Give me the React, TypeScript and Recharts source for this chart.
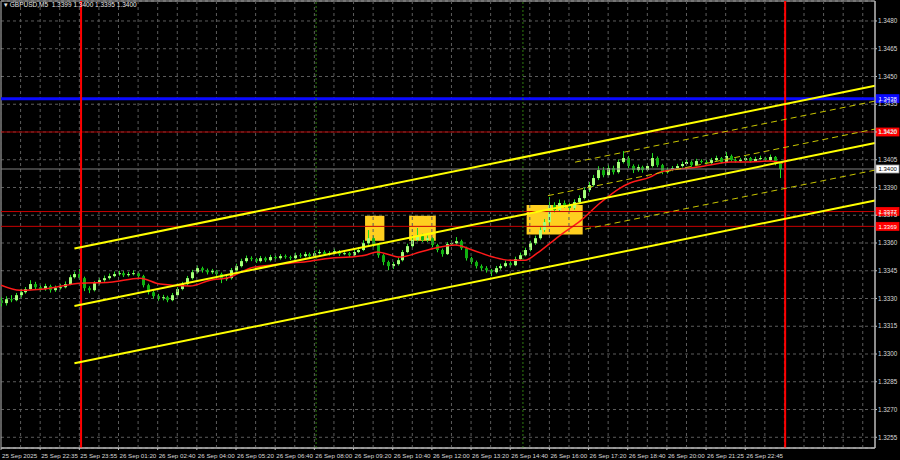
import {
  ComposedChart, Bar, Line, XAxis, YAxis, CartesianGrid,
  ReferenceLine, ReferenceArea,
} from "recharts";

// GBPUSD M5, one candle drawn per two M5 bars
const closes = [
  1.33275, 1.33296, 1.33291, 1.33318, 1.33334, 1.33351, 1.33378, 1.33361, 1.33351, 1.33367,
  1.33345, 1.33356, 1.33361, 1.33378, 1.33415, 1.33432, 1.33410, 1.33356, 1.33345, 1.33383,
  1.33399, 1.33410, 1.33421, 1.33432, 1.33437, 1.33426, 1.33432, 1.33437, 1.33421, 1.33372,
  1.33334, 1.33313, 1.33302, 1.33307, 1.33291, 1.33318, 1.33351, 1.33378, 1.33410, 1.33442,
  1.33464, 1.33453, 1.33442, 1.33448, 1.33432, 1.33405, 1.33410, 1.33453, 1.33475, 1.33502,
  1.33518, 1.33513, 1.33502, 1.33518, 1.33507, 1.33524, 1.33518, 1.33529, 1.33524, 1.33518,
  1.33534, 1.33529, 1.33540, 1.33529, 1.33545, 1.33551, 1.33540, 1.33545, 1.33556, 1.33540,
  1.33545, 1.33534, 1.33551, 1.33562, 1.33599, 1.33626, 1.33589, 1.33534, 1.33497, 1.33475,
  1.33486, 1.33507, 1.33551, 1.33583, 1.33616, 1.33637, 1.33616, 1.33626, 1.33589, 1.33562,
  1.33540, 1.33594, 1.33599, 1.33610, 1.33572, 1.33518, 1.33497, 1.33475, 1.33464, 1.33453,
  1.33442, 1.33464, 1.33475, 1.33491, 1.33480, 1.33513, 1.33534, 1.33562, 1.33599, 1.33626,
  1.33670, 1.33713, 1.33805, 1.33778, 1.33816, 1.33805, 1.33789, 1.33821, 1.33843, 1.33886,
  1.33913, 1.33951, 1.33994, 1.33967, 1.34005, 1.33983, 1.34038, 1.34059, 1.34016, 1.33994,
  1.34010, 1.33994, 1.34016, 1.34059, 1.34021, 1.33983, 1.33994, 1.34005, 1.34016, 1.34027,
  1.34038, 1.34021, 1.34043, 1.34038, 1.34032, 1.34048, 1.34059, 1.34038, 1.34070, 1.34048,
  1.34043, 1.34048, 1.34059, 1.34043, 1.34054, 1.34059, 1.34048, 1.34065, 1.34032, 1.34000,
];
const highs = [
  1.33310, 1.33312, 1.33318, 1.33330, 1.33352, 1.33362, 1.33399, 1.33390, 1.33372, 1.33380,
  1.33375, 1.33370, 1.33378, 1.33392, 1.33428, 1.33445, 1.33459, 1.33418, 1.33366, 1.33394,
  1.33412, 1.33424, 1.33435, 1.33446, 1.33450, 1.33448, 1.33444, 1.33452, 1.33446, 1.33428,
  1.33380, 1.33342, 1.33325, 1.33320, 1.33315, 1.33330, 1.33362, 1.33390, 1.33422, 1.33455,
  1.33478, 1.33472, 1.33462, 1.33460, 1.33455, 1.33440, 1.33425, 1.33465, 1.33488, 1.33515,
  1.33532, 1.33528, 1.33520, 1.33530, 1.33526, 1.33536, 1.33534, 1.33540, 1.33538, 1.33532,
  1.33548, 1.33545, 1.33552, 1.33548, 1.33558, 1.33564, 1.33560, 1.33556, 1.33570, 1.33562,
  1.33558, 1.33552, 1.33562, 1.33578, 1.33615, 1.33670, 1.33640, 1.33595, 1.33540, 1.33505,
  1.33498, 1.33520, 1.33562, 1.33596, 1.33630, 1.33681, 1.33650, 1.33640, 1.33632, 1.33596,
  1.33570, 1.33605, 1.33615, 1.33632, 1.33618, 1.33580, 1.33525, 1.33505, 1.33484, 1.33475,
  1.33460, 1.33476, 1.33488, 1.33505, 1.33500, 1.33526, 1.33548, 1.33575, 1.33612, 1.33640,
  1.33685, 1.33730, 1.33848, 1.33820, 1.33835, 1.33830, 1.33818, 1.33836, 1.33858, 1.33900,
  1.33930, 1.33968, 1.34015, 1.34010, 1.34025, 1.34018, 1.34052, 1.34097, 1.34070, 1.34025,
  1.34024, 1.34018, 1.34030, 1.34086, 1.34068, 1.34028, 1.34008, 1.34016, 1.34028, 1.34040,
  1.34050, 1.34046, 1.34055, 1.34052, 1.34048, 1.34060, 1.34072, 1.34065, 1.34092, 1.34078,
  1.34058, 1.34060, 1.34070, 1.34065, 1.34066, 1.34072, 1.34066, 1.34078, 1.34070, 1.34035,
];
const lows = [
  1.33258, 1.33262, 1.33280, 1.33285, 1.33305, 1.33326, 1.33345, 1.33348, 1.33338, 1.33342,
  1.33332, 1.33336, 1.33348, 1.33355, 1.33372, 1.33408, 1.33400, 1.33340, 1.33329, 1.33338,
  1.33375, 1.33390, 1.33402, 1.33415, 1.33424, 1.33416, 1.33418, 1.33425, 1.33410, 1.33360,
  1.33322, 1.33300, 1.33288, 1.33290, 1.33280, 1.33285, 1.33310, 1.33344, 1.33370, 1.33402,
  1.33435, 1.33440, 1.33430, 1.33432, 1.33420, 1.33383, 1.33395, 1.33402, 1.33445, 1.33468,
  1.33494, 1.33502, 1.33492, 1.33495, 1.33498, 1.33500, 1.33510, 1.33510, 1.33515, 1.33508,
  1.33512, 1.33520, 1.33522, 1.33520, 1.33524, 1.33538, 1.33530, 1.33532, 1.33538, 1.33530,
  1.33534, 1.33525, 1.33528, 1.33545, 1.33556, 1.33590, 1.33578, 1.33520, 1.33480, 1.33453,
  1.33460, 1.33478, 1.33500, 1.33545, 1.33575, 1.33608, 1.33605, 1.33605, 1.33578, 1.33550,
  1.33526, 1.33535, 1.33585, 1.33592, 1.33562, 1.33505, 1.33485, 1.33462, 1.33450, 1.33440,
  1.33421, 1.33435, 1.33455, 1.33468, 1.33470, 1.33475, 1.33505, 1.33528, 1.33555, 1.33590,
  1.33618, 1.33660, 1.33705, 1.33765, 1.33770, 1.33790, 1.33775, 1.33780, 1.33812, 1.33835,
  1.33875, 1.33905, 1.33940, 1.33955, 1.33960, 1.33970, 1.33975, 1.34030, 1.34005, 1.33978,
  1.33985, 1.33980, 1.33988, 1.34008, 1.34010, 1.33972, 1.33975, 1.33988, 1.33998, 1.34008,
  1.34020, 1.34012, 1.34015, 1.34030, 1.34025, 1.34026, 1.34042, 1.34030, 1.34032, 1.34040,
  1.34035, 1.34036, 1.34042, 1.34035, 1.34038, 1.34048, 1.34040, 1.34042, 1.34020, 1.33951,
];
const firstOpen = 1.3329;

// moving average (red), bar index -> value
const maBars = [0, 7.8, 20, 32.3, 44.5, 56.8, 65, 77.2, 85.4, 93.5, 101.7, 109.9, 118.1, 126.2,
  134.4, 142.6, 148.7, 153.6, 163, 171.2, 179.3, 185.5, 192.8, 201, 207.9, 214.1, 219, 224.3,
  229.6, 236.5, 244.7, 252.9, 256.9, 265.1, 269.2, 273.3, 281.5, 289.6, 297.8, 306, 314.1, 319.4];
const maValues = [1.33372, 1.33345, 1.33356, 1.33383, 1.33388, 1.3341, 1.33378, 1.33367, 1.33399,
  1.33415, 1.33464, 1.3348, 1.33491, 1.33502, 1.33518, 1.33524, 1.33534, 1.33551, 1.33524, 1.33551,
  1.33578, 1.33589, 1.33561, 1.33524, 1.33507, 1.33507, 1.33545, 1.33599, 1.33653, 1.33718, 1.33816,
  1.33897, 1.33924, 1.33956, 1.33983, 1.33994, 1.34005, 1.34021, 1.34038, 1.34038, 1.34043, 1.34032];

const yTicks = [1.3255, 1.327, 1.3285, 1.33, 1.3315, 1.333, 1.3345, 1.336, 1.3375, 1.339,
  1.3405, 1.342, 1.3435, 1.345, 1.3465, 1.348];
const xTicks = [0, 16, 32, 48, 64, 80, 96, 112, 128, 144, 160, 176, 192, 208, 224, 240, 256, 272, 288, 304];
const xLabels = ["25 Sep 2025", "25 Sep 22:35", "25 Sep 23:55", "26 Sep 01:20", "26 Sep 02:40",
  "26 Sep 04:00", "26 Sep 05:20", "26 Sep 06:40", "26 Sep 08:00", "26 Sep 09:20", "26 Sep 10:40",
  "26 Sep 12:00", "26 Sep 13:20", "26 Sep 14:40", "26 Sep 16:00", "26 Sep 17:20", "26 Sep 18:40",
  "26 Sep 20:00", "26 Sep 21:25", "26 Sep 22:45"];

// levels and session marks
const blueLevel = 1.3438;
const redLevels = [1.342, 1.3377, 1.3369];
const lastPrice = 1.34;
const dayLines = [32.7, 320.3];
const sessionLines = [128.7, 213.2];
const boxes = [
  { x1: 148.7, x2: 156.6, y1: 1.33612, y2: 1.33747 },
  { x1: 166.7, x2: 177.6, y1: 1.33612, y2: 1.33747 },
  { x1: 214.7, x2: 237.6, y1: 1.33646, y2: 1.33805 },
];
// price channel: [x0, y0, x1, y1]
const channel = [
  [30, 1.3357, 357, 1.3445],
  [30, 1.3326, 357, 1.3414],
  [30, 1.3295, 357, 1.3383],
];
const channelDashed = [
  [234.5, 1.34037, 357, 1.34367],
  [223.4, 1.33856, 357, 1.34216],
  [238.6, 1.33675, 357, 1.33994],
];

const X_MAX = 357;
const Y_MIN = 1.32492;
const Y_MAX = 1.34908;
const gridBars = Array.from({ length: 45 }, (_, k) => k * 8);
const FONT = "'Liberation Sans', Arial, sans-serif";

const candles = closes.map((c, i) => ({
  t: i * 2,
  open: i === 0 ? firstOpen : closes[i - 1],
  close: c,
  range: [lows[i], highs[i]],
}));
const maData = maBars.map((t, i) => ({ t, ma: maValues[i] }));

function Candle(props: any) {
  const { x, y, width, height, payload } = props;
  if (!payload) return null;
  const [lo, hi] = payload.range;
  const top = Math.min(y, y + height);
  const h = Math.abs(height);
  const py = (v: number) => (hi === lo ? top : top + ((hi - v) / (hi - lo)) * h);
  const cx = Math.round(x + width / 2) + 0.5;
  const up = payload.close >= payload.open;
  const yo = py(payload.open);
  const yc = py(payload.close);
  const bt = Math.min(yo, yc);
  const bh = Math.max(1, Math.abs(yo - yc));
  return (
    <g>
      <line x1={cx} x2={cx} y1={top} y2={top + h} stroke="#22dd22" strokeWidth={1} />
      <rect x={cx - 1.5} y={bt} width={3} height={bh} fill={up ? "#a6ff7a" : "#10b010"} />
    </g>
  );
}

function PriceTag(props: any) {
  const { viewBox, text, bg, fg, border } = props;
  if (!viewBox) return null;
  const x = viewBox.x + viewBox.width + 1;
  const y = viewBox.y;
  return (
    <g>
      <rect x={x} y={y - 4} width={23} height={8} fill={bg} stroke={border || bg} strokeWidth={0.8} />
      <text x={x + 2.5} y={y + 2.2} fontSize={6} fontFamily={FONT} fill={fg}>{text}</text>
    </g>
  );
}

function TimeTick(props: any) {
  const { x, y, index } = props;
  return (
    <text x={x + 1} y={y + 6} fontSize={6.2} fontFamily={FONT} fill="#d8d8d8" textAnchor="start">
      {xLabels[index] ?? ""}
    </text>
  );
}

export default function App() {
  return (
    <div style={{ position: "relative", width: 900, height: 460, background: "#000" }}>
      <style>{"body{margin:0;background:#000}"}</style>
      <ComposedChart
        width={900}
        height={460}
        data={candles}
        margin={{ top: 1, right: 0, left: 1, bottom: 0 }}
        barSize={3}
        style={{ background: "#000" }}
      >
        <CartesianGrid vertical={false} stroke="#5c5c5c" strokeDasharray="3 3" />
        {gridBars.map((b) => (
          <ReferenceLine key={"g" + b} x={b} stroke="#5c5c5c" strokeDasharray="3 3" />
        ))}
        <XAxis
          dataKey="t"
          type="number"
          domain={[0, X_MAX]}
          ticks={xTicks}
          interval={0}
          height={12}
          tick={<TimeTick />}
          tickSize={2}
          stroke="#bdbdbd"
          allowDataOverflow
        />
        <YAxis
          orientation="right"
          type="number"
          domain={[Y_MIN, Y_MAX]}
          ticks={yTicks}
          interval={0}
          width={25}
          tickSize={2}
          tickMargin={1}
          stroke="#bdbdbd"
          tick={{ fontSize: 6.3, fill: "#d8d8d8", fontFamily: FONT }}
          tickFormatter={(v) => Number(v).toFixed(4)}
          allowDataOverflow
        />
        {boxes.map((b, i) => (
          <ReferenceArea key={"b" + i} x1={b.x1} x2={b.x2} y1={b.y1} y2={b.y2}
            fill="#ffcf1f" fillOpacity={1} stroke="none" />
        ))}
        <ReferenceArea x1={0} x2={X_MAX} y1={Y_MIN} y2={Y_MAX} fill="none" stroke="#bdbdbd" />
        <Bar dataKey="range" shape={<Candle />} isAnimationActive={false} />
        <Line data={maData} dataKey="ma" type="monotone" stroke="#ff1a1a" strokeWidth={1.5}
          dot={false} activeDot={false} isAnimationActive={false} />
        <ReferenceLine y={lastPrice} stroke="#808080" strokeWidth={1.2}
          label={<PriceTag text="1.3400" bg="#ffffff" fg="#000000" border="#9a9a9a" />} />
        {redLevels.map((v, i) => (
          <ReferenceLine key={"r" + i} y={v} stroke={i === 0 ? "#b00000" : "#c80000"} strokeWidth={1}
            label={<PriceTag text={v.toFixed(4)} bg="#ff0000" fg="#ffffff" />} />
        ))}
        <ReferenceLine y={blueLevel} stroke="#0a0aff" strokeWidth={3}
          label={<PriceTag text={blueLevel.toFixed(4)} bg="#0a0aff" fg="#ffffff" />} />
        {sessionLines.map((v, i) => (
          <ReferenceLine key={"s" + i} x={v} stroke="#2f7d0f" strokeDasharray="2 2" />
        ))}
        {dayLines.map((v, i) => (
          <ReferenceLine key={"d" + i} x={v} stroke="#ff0000" strokeWidth={2} />
        ))}
        {channelDashed.map((c, i) => (
          <ReferenceLine key={"cd" + i} segment={[{ x: c[0], y: c[1] }, { x: c[2], y: c[3] }]}
            stroke="#c9c600" strokeDasharray="6 4" strokeWidth={1} />
        ))}
        {channel.map((c, i) => (
          <ReferenceLine key={"c" + i} segment={[{ x: c[0], y: c[1] }, { x: c[2], y: c[3] }]}
            stroke="#ffff00" strokeWidth={2} />
        ))}
      </ComposedChart>
      <div style={{ position: "absolute", left: 4, top: 1, fontSize: 6.5, fontFamily: FONT, color: "#e6e6e6", whiteSpace: "pre" }}>
        {"▾ GBPUSD,M5  1.3399 1.3400 1.3395 1.3400"}
      </div>
    </div>
  );
}
